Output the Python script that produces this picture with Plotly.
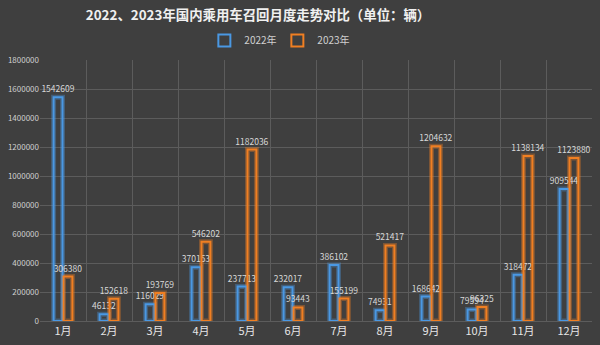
import plotly.graph_objects as go

months = ["1月", "2月", "3月", "4月", "5月", "6月", "7月", "8月", "9月", "10月", "11月", "12月"]
y2022 = [1542609, 46132, 116029, 370153, 237713, 232017, 386102, 74931, 168642, 79594, 318472, 909544]
y2023 = [306380, 152618, 193769, 546202, 1182036, 93443, 155199, 521417, 1204632, 96325, 1138134, 1123880]
yticks = [0, 200000, 400000, 600000, 800000, 1000000, 1200000, 1400000, 1600000, 1800000]

BLUE = "#4a98e3"
ORANGE = "#f07f22"
BG = "#3f3f3f"
FONT = "Noto Sans CJK SC"

fig = go.Figure()
# glow layers
fig.add_trace(go.Bar(x=months, y=y2022, offsetgroup="a", showlegend=False, hoverinfo="skip",
                     marker=dict(color="rgba(0,0,0,0)", line=dict(color="rgba(74,152,227,0.35)", width=5))))
fig.add_trace(go.Bar(x=months, y=y2023, offsetgroup="b", showlegend=False, hoverinfo="skip",
                     marker=dict(color="rgba(0,0,0,0)", line=dict(color="rgba(240,127,34,0.35)", width=5))))
# main outlines
fig.add_trace(go.Bar(x=months, y=y2022, name="2022年", offsetgroup="a",
                     marker=dict(color="rgba(0,0,0,0)", line=dict(color=BLUE, width=2)),
                     text=[str(v) for v in y2022], textposition="outside", cliponaxis=False,
                     constraintext="none",
                     textfont=dict(color="#d8d8d8", size=8.5, family=FONT)))
fig.add_trace(go.Bar(x=months, y=y2023, name="2023年", offsetgroup="b",
                     marker=dict(color="rgba(0,0,0,0)", line=dict(color=ORANGE, width=2)),
                     text=[str(v) for v in y2023], textposition="outside", cliponaxis=False,
                     constraintext="none",
                     textfont=dict(color="#d8d8d8", size=8.5, family=FONT)))

fig.update_layout(
    width=600, height=345,
    paper_bgcolor=BG, plot_bgcolor=BG,
    margin=dict(l=40, r=8, t=60, b=24),
    barmode="group", bargap=0.57, bargroupgap=0.1,
    font=dict(family=FONT, color="#d8d8d8"),
    title=dict(text="<b>2022、2023年国内乘用车召回月度走势对比（单位：辆）</b>",
               x=0.43, xanchor="center", y=0.955, yanchor="middle",
               font=dict(size=13.4, color="#f0f0f0", family=FONT)),
    legend=dict(orientation="h", x=0.43, xanchor="center", y=1.075, yanchor="middle",
                font=dict(size=10, color="#d0d0d0", family=FONT), bgcolor="rgba(0,0,0,0)",
                itemwidth=30, entrywidth=28, traceorder="normal"),
    xaxis=dict(type="category", tickson="boundaries", showgrid=True, gridcolor="#5c5c5c", gridwidth=1,
               ticks="", tickfont=dict(size=11, color="#e6e6e6", family=FONT),
               showline=True, linecolor="#5c5c5c", zeroline=False),
    yaxis=dict(range=[0, 1800000], tickvals=yticks, ticktext=[str(v) for v in yticks],
               showgrid=True, gridcolor="#5c5c5c", gridwidth=1, zeroline=False,
               tickfont=dict(size=8, color="#d0d0d0", family=FONT), ticks=""),
)

fig.write_html("out.html")
